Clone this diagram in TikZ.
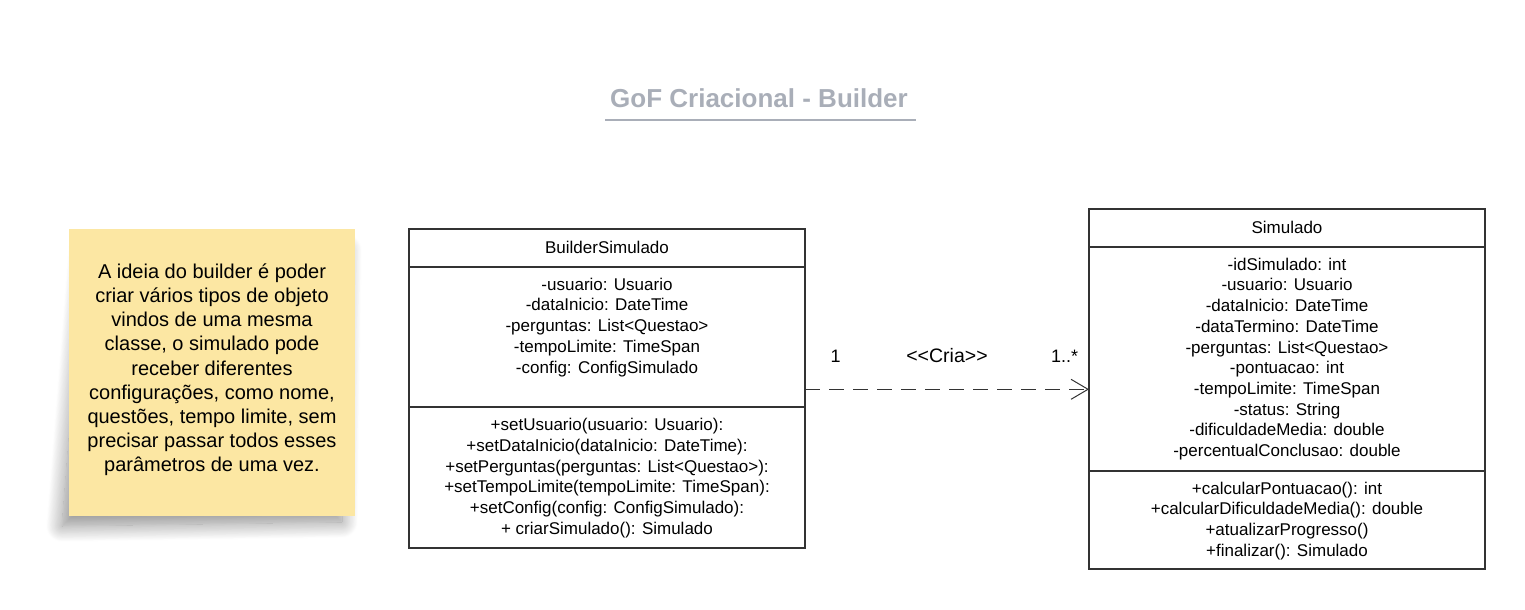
\documentclass[tikz,border=0pt]{standalone}
\usepackage{fontspec}
\setmainfont{Liberation Sans}
\usetikzlibrary{positioning,arrows.meta,shadows.blur}
\definecolor{notefill}{RGB}{252,231,163}
\definecolor{titlegray}{RGB}{169,174,184}
\definecolor{linegray}{RGB}{51,51,51}
\begin{document}
\begin{tikzpicture}[x=1pt,y=-1pt,
  part/.style={draw=linegray, line width=2pt, minimum width=396pt, inner sep=0pt, outer sep=0pt},
  members/.style={font=\fontsize{17}{20.7}\selectfont, align=center, inner sep=0pt},
  mult/.style={font=\fontsize{18}{21}\selectfont, inner sep=0pt, text=black}]
\useasboundingbox (0,0) rectangle (1525,610);

% title
\node[font=\fontsize{26}{30}\selectfont\bfseries, text=titlegray, inner sep=0pt] (title) at (759,98.5) {GoF Criacional - Builder};
\draw[titlegray, line width=2pt] (605,119.5) -- (916,119.5);

% note (shadow first, a bit skewed to the lower left)
\path[blur shadow={shadow xshift=0pt, shadow yshift=0pt, shadow blur radius=16pt, shadow blur steps=20, shadow opacity=45}]
  (84,250) -- (346,250) -- (342,522) -- (62,526) -- cycle;
\node[fill=notefill, minimum width=286pt, minimum height=287pt, inner sep=0pt] (note) at (212,372.5) {};
\node[font=\fontsize{20}{24.2}\selectfont, align=center, inner sep=0pt] (notetxt) at ([yshift=2.7pt]note.center)
  {A ideia do builder é poder\\ criar vários tipos de objeto\\ vindos de uma mesma\\ classe, o simulado pode\\
   receber diferentes\\ configurações, como nome,\\ questões, tempo limite, sem\\ precisar passar todos esses\\ parâmetros de uma vez.};

% BuilderSimulado
\node[part, minimum height=37.7pt, font=\fontsize{17}{20}\selectfont] (bhead) at (607,247.85) {BuilderSimulado};
\node[part, minimum height=140.6pt, below=0pt of bhead] (battr) {};
\node[part, minimum height=140.7pt, below=0pt of battr] (bmeth) {};
\node[members, below=11pt of battr.north] (battrtxt)
  {-usuario: Usuario\\ -dataInicio: DateTime\\ -perguntas: List<Questao>\\ -tempoLimite: TimeSpan\\ -config: ConfigSimulado};
\node[members, below=11pt of bmeth.north] (bmethtxt)
  {+setUsuario(usuario: Usuario):\\ +setDataInicio(dataInicio: DateTime):\\ +setPerguntas(perguntas: List<Questao>):\\
   +setTempoLimite(tempoLimite: TimeSpan):\\ +setConfig(config: ConfigSimulado):\\ + criarSimulado(): Simulado};

% Simulado
\node[part, minimum height=37.7pt, font=\fontsize{17}{20}\selectfont] (shead) at (1287,227.85) {Simulado};
\node[part, minimum height=224pt, below=0pt of shead] (sattr) {};
\node[part, minimum height=98.3pt, below=0pt of sattr] (smeth) {};
\node[members, below=11pt of sattr.north] (sattrtxt)
  {-idSimulado: int\\ -usuario: Usuario\\ -dataInicio: DateTime\\ -dataTermino: DateTime\\ -perguntas: List<Questao>\\
   -pontuacao: int\\ -tempoLimite: TimeSpan\\ -status: String\\ -dificuldadeMedia: double\\ -percentualConclusao: double};
\node[members, below=11pt of smeth.north] (smethtxt)
  {+calcularPontuacao(): int\\ +calcularDificuldadeMedia(): double\\ +atualizarProgresso()\\ +finalizar(): Simulado};

% dependency
\coordinate (crialevel) at (0,389.3);
\draw[linegray, line width=1pt, dash pattern=on 15pt off 9pt, -{Straight Barb[length=17pt,width=20pt]}]
  (battr.east |- crialevel) -- (sattr.west |- crialevel)
  node[mult, pos=0.108, above=26pt] {1}
  node[mult, midway, above=26pt, font=\fontsize{19.5}{22}\selectfont] {<\kern0pt<Cria>\kern0pt>}
  node[mult, pos=0.914, above=26pt] {1..*};
\end{tikzpicture}
\end{document}
